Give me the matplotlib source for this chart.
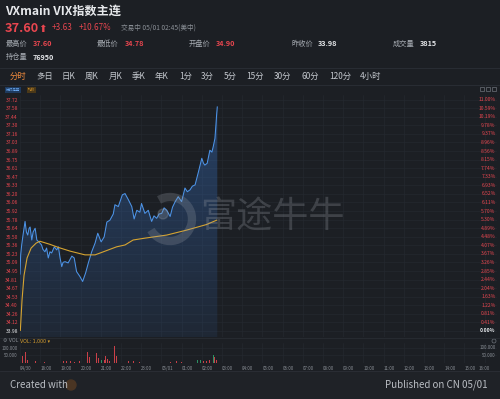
import matplotlib
matplotlib.use('Agg')
import matplotlib.pyplot as plt
from matplotlib.patches import Arc, Circle, Rectangle
import matplotlib.colors as mcolors
import numpy as np

plt.rcParams['font.family'] = ['Noto Sans CJK SC', 'DejaVu Sans']

# ---- data (minutes since 17:00 on 04/30) ----
minutes = [0, 2, 5, 9, 15, 19, 23, 27, 30, 35, 39, 45, 50, 56, 64, 68, 74, 79, 84, 89,
           94, 102, 109, 114, 119, 124, 128, 134, 143, 154, 161, 168, 178, 186, 195, 203, 213, 223, 231, 241,
           250, 258, 267, 277, 282, 292, 304, 312, 322, 332, 339, 347, 356, 361, 371, 381, 391, 398, 406, 413,
           421, 428, 436, 446, 453, 461, 470, 480, 490, 497, 505, 512, 520, 530, 540, 545, 549, 556, 564, 570,
           574, 579, 582, 584, 586]
price = [34.90, 35.21, 35.37, 35.53, 35.75, 35.58, 35.53, 35.64, 35.66, 35.45, 35.58, 35.64, 35.45, 35.42, 35.37,
         35.30, 35.26, 35.32, 35.16, 35.26, 35.24, 35.34, 35.29, 35.34, 35.16, 35.02, 35.09, 35.10, 35.08, 35.19,
         35.16, 34.94, 34.86, 34.78, 34.92, 35.08, 35.26, 35.40, 35.56, 35.42, 35.50, 35.74, 35.77, 35.87, 36.02,
         35.99, 36.18, 36.20, 36.10, 35.99, 35.79, 35.93, 35.90, 36.04, 35.88, 35.93, 35.75, 35.84, 35.80, 35.87,
         35.88, 35.97, 35.93, 35.83, 35.98, 36.07, 36.15, 36.07, 36.29, 36.23, 36.26, 36.32, 36.34, 36.55, 36.77,
         36.69, 36.66, 36.69, 36.90, 36.87, 36.96, 37.09, 37.31, 37.47, 37.60]

avg_minutes = [1, 6, 12, 21, 33, 48, 59, 89, 114, 149, 193, 223, 238, 287, 312, 336, 371, 436, 495, 554, 584]
avg_price = [33.99, 34.48, 34.88, 35.16, 35.32, 35.40, 35.43, 35.38, 35.33, 35.27, 35.21, 35.21, 35.24,
             35.34, 35.37, 35.45, 35.48, 35.53, 35.61, 35.70, 35.77]

vol_minutes = [3, 7, 12, 17, 21, 45, 74, 89, 95, 104, 113, 128, 137, 149, 163, 178, 190, 200, 206, 214,
               228, 233, 241, 250, 255, 259, 267, 280, 287, 297, 312, 321, 336, 356, 386, 416, 446, 466, 481, 496,
               511, 526, 535, 544, 555, 564, 574, 579, 584]
volume = [15000, 47000, 20000, 74000, 15000, 8000, 5000, 10000, 12000, 8000,
          15000, 10000, 8000, 12000, 6000, 8000, 12000, 70000, 36000, 15000,
          63000, 30000, 15000, 20000, 47000, 27000, 12000, 110000, 47000, 20000,
          12000, 10000, 8000, 5000, 5000, 4000, 5000, 8000, 6000, 10000,
          8000, 15000, 18000, 10000, 12000, 20000, 54000, 36000, 20000]
vol_dir = ['u'] * 49
for i in (7, 22, 41, 42, 46):
    vol_dir[i] = 'd'

prev_close = 33.98
tick_step = 0.13845
n_ticks = 28
hour_labels = ['04/30', '18:00', '19:00', '20:00', '21:00', '22:00', '23:00', '05/01',
               '01:00', '02:00', '03:00', '04:00', '05:00', '06:00', '07:00', '08:00',
               '09:00', '10:00', '11:00', '12:00', '13:00', '14:00', '15:00', '16:00']
tabs = ['分时', '多日', '日K', '周K', '月K', '季K', '年K', '1分', '3分', '5分',
        '15分', '30分', '60分', '120分', '4小时']
tab_x = [10, 36, 62, 85, 109, 132, 155, 179, 201, 224, 246, 274, 302, 329, 360]

# ---- colours ----
BG = '#1c1f24'
GRID = '#262a31'
RED = '#e8464f'
GREEN = '#2ea56f'
BLUE = '#4d94e8'
GOLD = '#d6a431'
GRAY = '#8a8f96'
WHITE = '#e6e8eb'

W, H = 500, 399
fig = plt.figure(figsize=(W / 100, H / 100), dpi=100, facecolor=BG)


def px_axes(x0, y0, x1, y1, **kw):
    return fig.add_axes([x0 / W, 1 - y1 / H, (x1 - x0) / W, (y1 - y0) / H], **kw)


px_per_min = 20.2 / 60
px_per_price = 8.57 / tick_step
xmax = 477 / px_per_min
ybot = prev_close - 6 / px_per_price
ytop = prev_close + 236 / px_per_price

# ---- main price panel ----
ax = px_axes(20, 95, 497, 337)
ax.set_facecolor(BG)
for s in ax.spines.values():
    s.set_visible(False)

poly = ax.fill_between(minutes, price, ybot, color='none', lw=0)
grad = np.zeros((256, 1, 4))
grad[:, 0, :3] = mcolors.to_rgb('#3a78d0')
grad[:, 0, 3] = np.linspace(0.38, 0.10, 256)
im = ax.imshow(grad, extent=[minutes[0], minutes[-1], ybot, max(price)],
               aspect='auto', origin='upper', zorder=1)
im.set_clip_path(poly.get_paths()[0], transform=ax.transData)

ax.plot(minutes, price, color=BLUE, lw=0.75, zorder=3)
ax.plot(avg_minutes, avg_price, color=GOLD, lw=0.8, zorder=3)

ax.set_xlim(0, xmax)
ax.set_ylim(ybot, ytop)

levels = [prev_close + k * tick_step for k in range(n_ticks)]
ax.set_yticks(levels)
ax.set_yticklabels([f'{v:.2f}' for v in levels])
ax.tick_params(axis='y', length=0, pad=1.5, labelsize=3.6)
for k, lbl in enumerate(ax.get_yticklabels()):
    lbl.set_color(WHITE if k == 0 else RED)
ax.set_xticks([h * 60 for h in range(24)])
ax.tick_params(axis='x', length=0, labelbottom=False)
ax.grid(color=GRID, lw=0.4)
ax.set_axisbelow(True)

ytr = ax.get_yaxis_transform()
for k, v in enumerate(levels):
    pct = (v - prev_close) / prev_close * 100
    ax.text(0.997, v, f'{pct:.2f}%', transform=ytr, ha='right', va='center',
            fontsize=3.6, color=WHITE if k == 0 else RED,
            fontweight='bold' if k == 0 else 'normal')

# ---- volume panel ----
vax = px_axes(20, 343, 497, 362.5)
vax.set_facecolor(BG)
for s in vax.spines.values():
    s.set_visible(False)
vax.bar(vol_minutes, volume, width=2.6,
        color=[RED if d == 'u' else GREEN for d in vol_dir], alpha=0.85, zorder=3)
vax.hlines(0, minutes[0], minutes[-1], color='#8a8a3a', lw=0.7, zorder=4)
vax.set_xlim(0, xmax)
vax.set_ylim(0, 19.5 * 6757)
vax.set_yticks([50000, 100000])
vax.set_yticklabels(['50.000', '100.000'])
vax.tick_params(axis='y', length=0, pad=1.5, labelsize=3.2, labelcolor=GRAY)
vax.set_xticks([h * 60 for h in range(24)])
vax.set_xticklabels(hour_labels)
vax.tick_params(axis='x', length=0, pad=2.2, labelsize=3.2, labelcolor=GRAY)
for k, lbl in enumerate(vax.get_xticklabels()):
    lbl.set_ha('center' if k == 23 else 'left')
vax.grid(color=GRID, lw=0.4)
vax.set_axisbelow(True)
vtr = vax.get_yaxis_transform()
for v, t in ((50000, '50.000'), (100000, '100.000')):
    vax.text(0.997, v, t, transform=vtr, ha='right', va='center', fontsize=3.2, color=GRAY)

# ---- overlay: header, tabs, watermark, footer ----
ov = fig.add_axes([0, 0, 1, 1], zorder=10)
ov.set_xlim(0, W)
ov.set_ylim(H, 0)
ov.axis('off')
ov.patch.set_alpha(0)

ov.text(5, 11, 'VXmain VIX指数主连', fontsize=8.7, fontweight='bold', color=WHITE, va='center')
ov.text(5, 28, '37.60', fontsize=9.2, fontweight='bold', color=RED, va='center')
ov.text(38, 28.5, '⬆', fontsize=7.5, color=RED, va='center', family=['DejaVu Sans'])
ov.text(52, 28, '+3.63', fontsize=5.8, color=RED, va='center')
ov.text(79, 28, '+10.67%', fontsize=5.8, color=RED, va='center')
ov.text(121, 28, '交易中 05/01 02:45(美中)', fontsize=4.8, color=GRAY, va='center')

stats = [(6, 33, '最高价', '37.60', RED), (97, 125, '最低价', '34.78', RED),
         (189, 216, '开盘价', '34.90', RED), (291, 318, '昨收价', '33.98', WHITE),
         (393, 420, '成交量', '3815', WHITE)]
for lx, vx, lab, val, col in stats:
    ov.text(lx, 44, lab, fontsize=5.2, color='#a6abb2', va='center')
    ov.text(vx, 44, val, fontsize=5.2, color=col, fontweight='bold', va='center')
ov.text(6, 57, '持仓量', fontsize=5.2, color='#a6abb2', va='center')
ov.text(33, 57, '76950', fontsize=5.2, color=WHITE, fontweight='bold', va='center')

ov.axhline(68, color='#2b2f36', lw=0.6)
ov.axhline(85, color='#2b2f36', lw=0.6)
for x, t in zip(tab_x, tabs):
    ov.text(x, 76.5, t, fontsize=6, color='#f08a3c' if t == '分时' else '#c3c7cd', va='center')

ov.text(6, 90, '分时走势', fontsize=2.6, color='#6aa8f0', va='center',
        bbox=dict(boxstyle='square,pad=0.25', fc='#1e3a5e', ec='none'))
ov.text(28, 90, '均价', fontsize=2.6, color='#e8a030', va='center',
        bbox=dict(boxstyle='square,pad=0.25', fc='#4a3818', ec='none'))
for x in (480, 486, 492):
    ov.add_patch(Rectangle((x, 86.5), 4, 4, fill=False, ec='#6d727a', lw=0.5))

# watermark
ov.add_patch(Arc((170, 219), 44, 44, theta1=-120, theta2=150, lw=6, color='#9aa0a8', alpha=0.25))
ov.add_patch(Circle((163, 214), 5, color='#9aa0a8', alpha=0.25))
ov.text(272, 217, '富途牛牛', fontsize=26, color='#9aa0a8', alpha=0.27, ha='center', va='center')

# volume header
ov.text(3, 341, '⚙ VOL', fontsize=3.4, color=GRAY, va='center', family=['DejaVu Sans'])
ov.text(20, 341, 'VOL: 1,000 ▾', fontsize=3.4, color='#d8a030', va='center', family=['DejaVu Sans'])
ov.add_patch(Circle((494, 341), 2, fill=False, ec='#6d727a', lw=0.5))
ov.axhline(337.5, color='#2b2f36', lw=0.5)

# footer
ov.add_patch(Rectangle((0, 371), W, H - 371, color='#1f2227', zorder=0))
ov.axhline(371, color='#2b2f36', lw=0.6)
ov.text(10, 385, 'Created with', fontsize=7, color='#b9bdc3', va='center')
ov.add_patch(Circle((71, 385), 5, color='#4a3523'))
ov.text(488, 385, 'Published on CN 05/01', fontsize=7, color='#b9bdc3', va='center', ha='right')

fig.savefig('out.png', dpi=100, facecolor=BG)
